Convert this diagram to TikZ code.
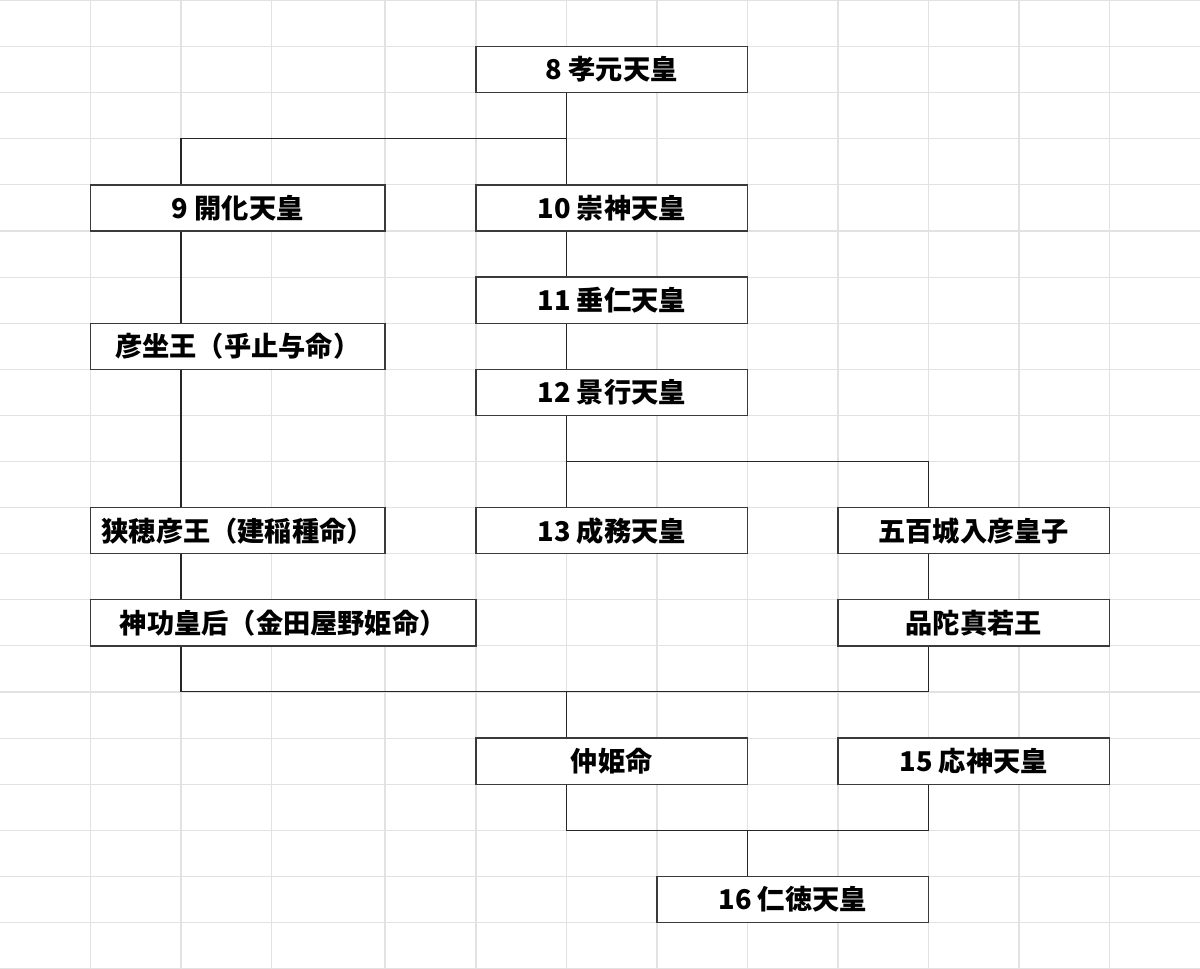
\documentclass[tikz,border=0pt]{standalone}
\usepackage{fontspec}
\setmainfont{Noto Sans CJK JP}
\usepackage{tikz}
\usetikzlibrary{positioning}
\definecolor{gridgray}{HTML}{E2E2E2}
\definecolor{boxline}{HTML}{3A3A3A}
\tikzset{
  namebox/.style={draw=boxline, line width=0.75pt, fill=white, inner sep=0pt,
    minimum height=0.922cm, font=\fontsize{15.5pt}{18pt}\selectfont\bfseries},
  wide/.style={minimum width=5.43cm},
  wider/.style={minimum width=5.89cm},
  widest/.style={minimum width=7.71cm},
  link/.style={draw=black!85, line width=0.6pt}
}

\begin{document}
\begin{tikzpicture}[x=0.02cm,y=-0.02cm]
\useasboundingbox (0,0) rectangle (1200,969);
% sheet grid
\foreach \x in {90.5,181,271.5,385,476,566.5,657,747.5,838,928.5,1019,1109.5}
  \draw[gridgray, line width=0.6pt] (\x,0) -- (\x,969);
\foreach \k in {0,...,21}
  \draw[gridgray, line width=0.6pt] (0,{\k*46.1+0.5}) -- (1200,{\k*46.1+0.5});

% columns and joints of the lines
\coordinate (xa) at (181,0);
\coordinate (xc) at (928.5,0);
\coordinate (b1) at (566.5,138.8);
\coordinate (b2) at (566.5,461.5);
\coordinate (b3) at (566.5,691.9);
\coordinate (b4) at (747.5,830.3);

% boxes
\node[namebox,wide] (n8) at (611.75,69.65) {8 孝元天皇};
\node[namebox,wider] (n9) at (237.75,207.95) {9 開化天皇};
\node[namebox,wide] (n10) at (611.75,207.95) {10 崇神天皇};
\node[namebox,wide] (n11) at (611.75,300.15) {11 垂仁天皇};
\node[namebox,wider] (hiko) at (237.75,346.25) {彦坐王（乎止与命）};
\node[namebox,wide] (n12) at (611.75,392.35) {12 景行天皇};
\node[namebox,wider] (saho) at (237.75,530.65) {狭穂彦王（建稲種命）};
\node[namebox,wide] (n13) at (611.75,530.65) {13 成務天皇};
\node[namebox,wide] (iose) at (973.75,530.65) {五百城入彦皇子};
\node[namebox,widest] (jingu) at (283.25,622.85) {神功皇后（金田屋野姫命）};
\node[namebox,wide] (homuda) at (973.75,622.85) {品陀真若王};
\node[namebox,wide] (naka) at (611.75,761.15) {仲姫命};
\node[namebox,wide] (n15) at (973.75,761.15) {15 応神天皇};
\node[namebox,wide] (n16) at (792.75,899.45) {16 仁徳天皇};

% lines
\draw[link] (n8.south -| b1) -- (n10.north -| b1);
\draw[link] (b1) -| (n9.north -| xa);
\draw[link] (n9.south -| xa) -- (hiko.north -| xa);
\draw[link] (hiko.south -| xa) -- (saho.north -| xa);
\draw[link] (saho.south -| xa) -- (jingu.north -| xa);
\draw[link] (n10.south -| b1) -- (n11.north -| b1);
\draw[link] (n11.south -| b1) -- (n12.north -| b1);
\draw[link] (n12.south -| b2) -- (n13.north -| b2);
\draw[link] (b2) -| (iose.north -| xc);
\draw[link] (iose.south -| xc) -- (homuda.north -| xc);
\draw[link] (jingu.south -| xa) |- (b3) -| (homuda.south -| xc);
\draw[link] (b3) -- (naka.north -| b3);
\draw[link] (naka.south -| b1) |- (b4) -| (n15.south -| xc);
\draw[link] (b4) -- (n16.north -| b4);
\end{tikzpicture}
\end{document}
